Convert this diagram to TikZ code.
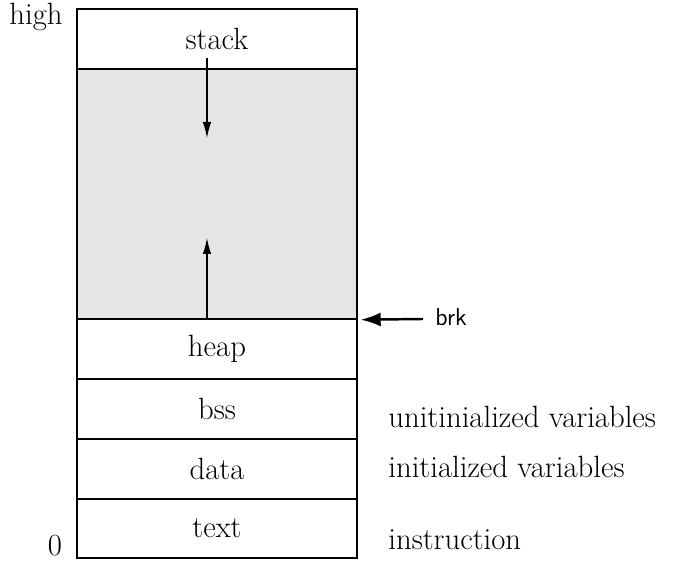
\documentclass[tikz,border=0pt]{standalone}
\usepackage{tikz}
\usetikzlibrary{calc, arrows, arrows.meta}

\tikzset{
    segment/.style={rectangle, draw=black, line width=0.8pt, minimum width=5.6cm, minimum height=1.2cm, inner sep=0pt, font=\fontsize{17.5}{20}\selectfont},
    side/.style={anchor=west, inner sep=0pt, font=\fontsize{17.5}{20}\selectfont},
    growarrow/.style={-{Latex[length=3.2mm, width=1.7mm]}, line width=0.7pt}
}

\begin{document}
\begin{tikzpicture}

        \useasboundingbox (0,0) rectangle (13.48,11.32);

        %% Segments
        \node (stack) [segment] at (4.34,10.54) {stack};
        \node (free) [segment, fill={rgb,255:red,229;green,229;blue,229}, minimum height=5cm] at (4.34,7.44) {};
        \node (heap) [segment] at (4.34,4.34) {heap};
        \node (bss) [segment] at (4.34,3.14) {bss};
        \node (data) [segment] at (4.34,1.94) {data};
        \node (text) [segment, minimum height=1.18cm] at (4.34,0.75) {text};

        %% Addresses
        \node (high) [font=\fontsize{17.5}{20}\selectfont, inner sep=0pt] at (0.72,10.98) {high};
        \node (zero) [font=\fontsize{17.5}{20}\selectfont, inner sep=0pt] at (1.1,0.4) {0};

        %% Growth arrows
        \coordinate (stacktop) at (4.14,10.16);
        \coordinate (stacktip) at (4.14,8.56);
        \coordinate (heaptip) at (4.14,6.56);
        \draw [growarrow] (stacktop) -- (stacktip);
        \draw [growarrow] (heap.north -| heaptip) -- (heaptip);

        %% brk
        \node (brk) [anchor=west, inner sep=0pt, font=\sffamily\fontsize{14}{16}\selectfont] at (8.7,4.98) {brk};
        \coordinate (brkstart) at (8.46,4.94);
        \draw [-{Latex[length=4mm, width=2.8mm]}, line width=1.4pt] (brkstart) -- ($(free.south east) + (0.06,0)$);

        %% Explanations
        \node (uninit) [side] at (7.76,2.98) {unitinialized variables};
        \node (init) [side] at (7.76,1.98) {initialized variables};
        \node (instr) [side] at (7.76,0.52) {instruction};

\end{tikzpicture}
\end{document}
